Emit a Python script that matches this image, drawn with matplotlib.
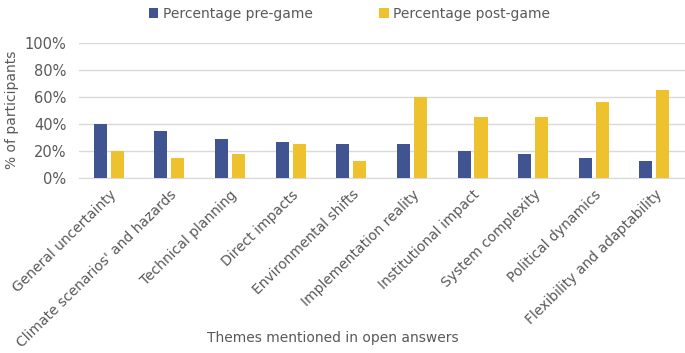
import matplotlib.pyplot as plt
import numpy as np
from matplotlib.ticker import PercentFormatter

themes = ["General uncertainty", "Climate scenarios' and hazards", "Technical planning",
          "Direct impacts", "Environmental shifts", "Implementation reality",
          "Institutional impact", "System complexity", "Political dynamics",
          "Flexibility and adaptability"]
pre_game = [40, 34.5, 29, 27, 25.5, 25.5, 20, 18, 14.5, 12.5]
post_game = [20, 14.5, 18, 25.5, 12.5, 60, 45.5, 45.5, 56, 65]

navy = '#3F5490'
gold = '#EEC12E'
grey = '#595959'

plt.rcParams['font.family'] = 'DejaVu Sans'

fig = plt.figure(figsize=(6.85, 3.53), dpi=100)
ax = fig.add_axes([0.115, 0.496, 0.885, 0.382])

x = np.arange(len(themes))
w = 0.215
ax.bar(x - 0.145, pre_game, w, color=navy, label='Percentage pre-game', zorder=3)
ax.bar(x + 0.135, post_game, w, color=gold, label='Percentage post-game', zorder=3)

ax.set_xlim(-0.5, len(themes) - 0.5)
ax.set_ylim(0, 100)
ax.set_yticks(range(0, 101, 20))
ax.yaxis.set_major_formatter(PercentFormatter(decimals=0))
ax.grid(axis='y', color='#D9D9D9', linewidth=1, zorder=0)
for s in ['top', 'right', 'left']:
    ax.spines[s].set_visible(False)
ax.spines['bottom'].set_color('#D9D9D9')
ax.tick_params(axis='both', length=0, colors=grey)
ax.tick_params(axis='y', labelsize=10.5, pad=9)
ax.tick_params(axis='x', pad=7)

ax.set_xticks(x)
ax.set_xticklabels(themes, rotation=44.5, ha='right', rotation_mode='anchor',
                   fontsize=10, color=grey)
fig.text(0.018, 0.69, '% of participants', color=grey, fontsize=10,
         rotation=90, ha='center', va='center')
fig.text(0.486, 0.042, 'Themes mentioned in open answers', color=grey,
         fontsize=10, ha='center', va='center')

fig.legend(loc='upper center', bbox_to_anchor=(0.51, 1.015), ncol=2, frameon=False,
           handlelength=0.7, handleheight=0.7, handletextpad=0.3, columnspacing=4.8,
           fontsize=10, labelcolor=grey)

fig.savefig('out.png', dpi=100)
